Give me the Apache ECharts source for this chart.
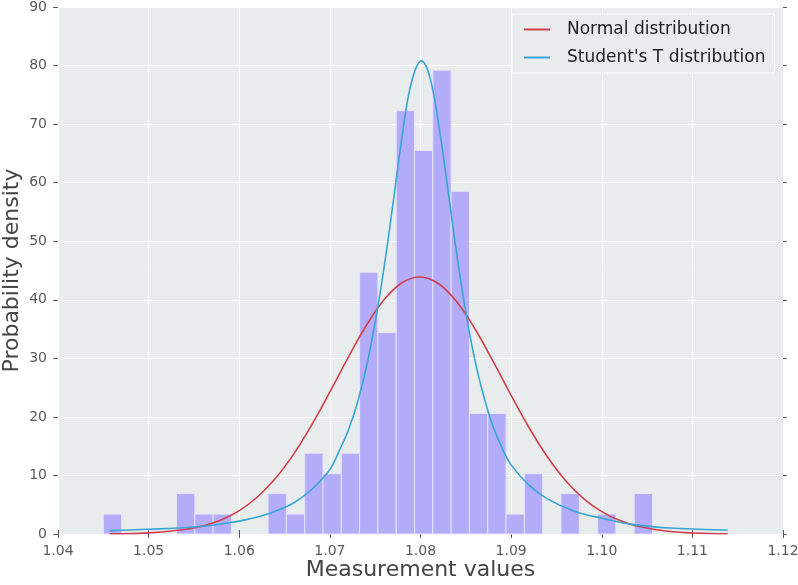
<!DOCTYPE html>
<html>
<head>
<meta charset="utf-8">
<script src="https://cdn.jsdelivr.net/npm/echarts@6/dist/echarts.min.js"></script>
<style>html,body{margin:0;padding:0;background:#fff}#c{width:798px;height:585px}</style>
</head>
<body>
<div id="c"></div>
<script>
// Histogram bin edges and densities
const binEdges = [1.04500,1.04702,1.04904,1.05106,1.05308,1.05510,1.05712,1.05914,1.06116,1.06318,
  1.06520,1.06722,1.06924,1.07126,1.07328,1.07530,1.07732,1.07934,1.08136,1.08338,
  1.08540,1.08742,1.08944,1.09146,1.09348,1.09550,1.09752,1.09954,1.10156,1.10358,1.10560];
const binDensity = [3.4,0,0,0,6.9,3.4,3.4,0,0,6.9,
  3.4,13.8,10.3,13.8,44.7,34.4,72.3,65.5,79.2,58.5,
  20.6,20.6,3.4,10.3,0,6.9,0,3.4,0,6.9];

// Normal distribution curve points
const normalX = [1.0457,1.050,1.055,1.058,1.060,1.062,1.064,1.066,1.068,1.070,1.072,1.074,1.076,1.078,1.080,
  1.082,1.084,1.086,1.088,1.090,1.092,1.094,1.096,1.098,1.100,1.102,1.104,1.107,1.110,1.1139];
const normalY = [0.04,0.2,1.03,2.41,4.0,6.32,9.51,13.64,18.64,24.26,30.09,35.56,40.04,42.95,43.9,
  42.74,39.65,35.05,29.51,23.68,18.1,13.19,9.15,6.05,3.81,2.29,1.31,0.52,0.18,0.04];

// Student's T distribution curve points
const tX = [1.0457,1.050,1.055,1.058,1.060,1.062,1.064,1.066,1.068,1.070,1.071,1.072,1.073,1.074,1.075,1.076,1.077,1.078,1.079,1.0801,
  1.081,1.082,1.083,1.084,1.085,1.086,1.087,1.088,1.089,1.090,1.092,1.094,1.097,1.100,1.1035,1.108,1.1139];
const tY = [0.57,0.8,1.2,1.7,2.2,2.9,3.9,5.3,7.6,11.0,14.1,17.6,22.2,28.3,36.2,45.7,56.8,68.2,77.1,80.8,
  78.2,70.0,59.1,47.8,37.9,29.7,23.4,18.4,14.7,11.8,8.3,6.0,3.9,2.7,1.6,0.97,0.68];

const xTicks = ['1.04','1.05','1.06','1.07','1.08','1.09','1.10','1.11','1.12'];

const histData = binDensity.map((d, i) => [binEdges[i], binEdges[i + 1], d]);
const normalData = normalX.map((x, i) => [x, normalY[i]]);
const tData = tX.map((x, i) => [x, tY[i]]);

const chart = echarts.init(document.getElementById('c'), null, {renderer: 'canvas'});
const font = 'DejaVu Sans';
const tickColor = '#5a5a5a';

chart.setOption({
  animation: false,
  backgroundColor: '#ffffff',
  textStyle: {fontFamily: font},
  grid: {left: 58, right: 15, top: 7, bottom: 51, show: true, backgroundColor: '#e8ecec', borderWidth: 0,
    containLabel: false, outerBoundsMode: 'none'},
  legend: {
    orient: 'vertical',
    left: 512, top: 14,
    padding: [6, 9, 6, 12],
    backgroundColor: '#e8ecec',
    borderColor: '#ffffff',
    borderWidth: 1,
    itemWidth: 26, itemHeight: 2,
    itemGap: 9,
    icon: 'rect',
    textStyle: {fontFamily: font, fontSize: 17, color: '#222', lineHeight: 19, padding: [0, 0, 0, 12]},
    data: ['Normal distribution', "Student's T distribution"]
  },
  xAxis: [{
    type: 'value', min: 1.04, max: 1.12, interval: 0.01,
    name: 'Measurement values', nameLocation: 'middle', nameGap: 25, nameMoveOverlap: false,
    nameTextStyle: {fontFamily: font, fontSize: 22, color: '#444'},
    axisLine: {show: false},
    axisTick: {show: true, length: 4, lineStyle: {color: tickColor}},
    axisLabel: {margin: 10, fontSize: 14, color: tickColor, fontFamily: font,
      formatter: v => xTicks[Math.round((v - 1.04) / 0.01)] || ''},
    splitLine: {show: true, lineStyle: {color: '#ffffff', width: 1}}
  }, {
    type: 'value', position: 'top', min: 1.04, max: 1.12, interval: 0.01,
    axisLine: {show: false},
    axisTick: {show: true, length: 4, lineStyle: {color: tickColor}},
    axisLabel: {show: false}, splitLine: {show: false}
  }],
  yAxis: [{
    type: 'value', min: 0, max: 90, interval: 10,
    name: 'Probability density', nameLocation: 'middle', nameGap: 35, nameMoveOverlap: false,
    nameTextStyle: {fontFamily: font, fontSize: 22, color: '#444'},
    axisLine: {show: false},
    axisTick: {show: true, length: 5, lineStyle: {color: tickColor}},
    axisLabel: {margin: 11, fontSize: 14, color: tickColor, fontFamily: font},
    splitLine: {show: true, lineStyle: {color: '#ffffff', width: 1}}
  }, {
    type: 'value', position: 'right', min: 0, max: 90, interval: 10,
    axisLine: {show: false},
    axisTick: {show: true, length: 4, lineStyle: {color: tickColor}},
    axisLabel: {show: false}, splitLine: {show: false}
  }],
  series: [{
    type: 'custom',
    name: 'hist',
    xAxisIndex: 0, yAxisIndex: 0,
    encode: {x: [0, 1], y: 2},
    data: histData,
    z: 2,
    renderItem: function (params, api) {
      const h = api.value(2);
      if (!h) return null;
      const p0 = api.coord([api.value(0), h]);
      const p1 = api.coord([api.value(1), 0]);
      return {
        type: 'rect',
        shape: {x: p0[0], y: p0[1], width: p1[0] - p0[0], height: p1[1] - p0[1]},
        style: {fill: '#b3acf8', stroke: '#e6e4fa', lineWidth: 1}
      };
    }
  }, {
    type: 'line', name: 'Normal distribution',
    data: normalData, smooth: 0.4, showSymbol: false, symbol: 'none',
    lineStyle: {color: '#d2404e', width: 1.6}, itemStyle: {color: '#d2404e'}, z: 3
  }, {
    type: 'line', name: "Student's T distribution",
    data: tData, smooth: 0.4, showSymbol: false, symbol: 'none',
    lineStyle: {color: '#38a6d4', width: 1.6}, itemStyle: {color: '#38a6d4'}, z: 4
  }]
});
</script>
</body>
</html>
